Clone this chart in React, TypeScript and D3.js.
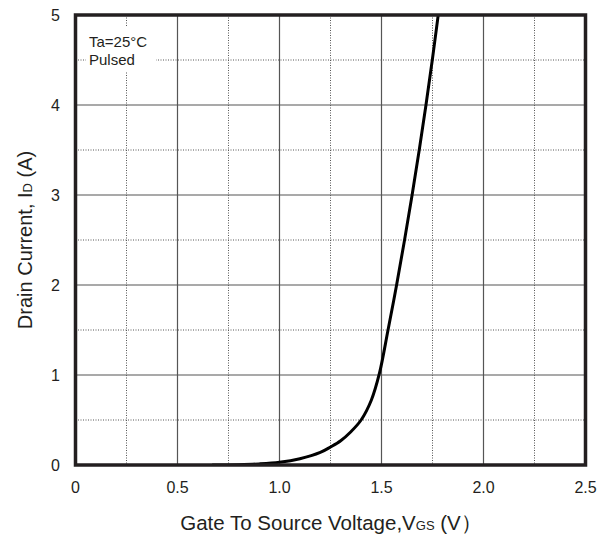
import React from "react";
import * as d3 from "d3";

const vgs = [0.67, 0.8, 0.9, 1.0, 1.1, 1.2, 1.25, 1.3, 1.35, 1.4, 1.45, 1.49, 1.532, 1.574, 1.613, 1.65, 1.685, 1.718, 1.749, 1.778];
const id = [0, 0.004, 0.012, 0.03, 0.07, 0.14, 0.2, 0.27, 0.37, 0.5, 0.72, 1.02, 1.5, 2.0, 2.5, 3.0, 3.5, 4.0, 4.5, 5.0];
const xTicks = [0, 0.5, 1.0, 1.5, 2.0, 2.5];
const xTickLabels = ["0", "0.5", "1.0", "1.5", "2.0", "2.5"];
const yTicks = [0, 1, 2, 3, 4, 5];
const xMinor = [0.25, 0.75, 1.25, 1.75, 2.25];
const yMinor = [0.5, 1.5, 2.5, 3.5, 4.5];
const legendLines = ["Ta=25°C", "Pulsed"];

const W = 608, H = 537;
const L = 75.5, R = 585.5, T = 15, B = 465;

export default function App() {
  const x = d3.scaleLinear().domain([0, 2.5]).range([L, R]);
  const y = d3.scaleLinear().domain([0, 5]).range([B, T]);
  const pts = vgs.map((v, i) => [v, id[i]] as [number, number]);
  const line = d3.line<[number, number]>().x(d => x(d[0])).y(d => y(d[1])).curve(d3.curveCatmullRom.alpha(0.5));
  const font = "'Liberation Sans', Arial, sans-serif";
  const txt = "#231f20";
  return (
    <svg width={W} height={H} style={{ position: "absolute", left: 0, top: 0, background: "#fff" }} fontFamily={font}>
      <defs>
        <clipPath id="plot"><rect x={L} y={T} width={R - L} height={B - T} /></clipPath>
      </defs>
      <rect x={0} y={0} width={W} height={H} fill="#fff" />
      {xMinor.map(v => (
        <line key={"xm" + v} x1={x(v)} x2={x(v)} y1={T} y2={B} stroke="#555" strokeWidth={1} strokeDasharray="1,1.5" />
      ))}
      {yMinor.map(v => (
        <line key={"ym" + v} x1={L} x2={R} y1={y(v)} y2={y(v)} stroke="#555" strokeWidth={1} strokeDasharray="1,1.5" />
      ))}
      {xTicks.slice(1, -1).map(v => (
        <line key={"xM" + v} x1={x(v)} x2={x(v)} y1={T} y2={B} stroke="#555" strokeWidth={1.2} />
      ))}
      {yTicks.slice(1, -1).map(v => (
        <line key={"yM" + v} x1={L} x2={R} y1={y(v)} y2={y(v)} stroke="#555" strokeWidth={1.2} />
      ))}
      <rect x={86} y={27} width={70} height={45} fill="#fff" />
      {legendLines.map((s, i) => (
        <text key={s} x={89} y={47 + i * 18} fontSize={15} fill={txt}>{s}</text>
      ))}
      <path d={line(pts) || ""} fill="none" stroke="#000" strokeWidth={3} clipPath="url(#plot)" />
      <rect x={L} y={T} width={R - L} height={B - T} fill="none" stroke={txt} strokeWidth={3.5} />
      {xTicks.map((v, i) => (
        <text key={"xt" + v} x={x(v)} y={493} fontSize={16} textAnchor="middle" fill={txt}>{xTickLabels[i]}</text>
      ))}
      {yTicks.map(v => (
        <text key={"yt" + v} x={60} y={y(v)} dy="0.36em" fontSize={16} textAnchor="end" fill={txt}>{String(v)}</text>
      ))}
      <text x={331} y={530} fontSize={20.5} textAnchor="middle" fill={txt}>
        Gate To Source Voltage,V<tspan fontSize={13}>GS</tspan> (V）
      </text>
      <text transform={`translate(32,${(T + B) / 2}) rotate(-90)`} fontSize={20} textAnchor="middle" fill={txt}>
        Drain Current, I<tspan fontSize={13}>D</tspan> (A)
      </text>
    </svg>
  );
}
